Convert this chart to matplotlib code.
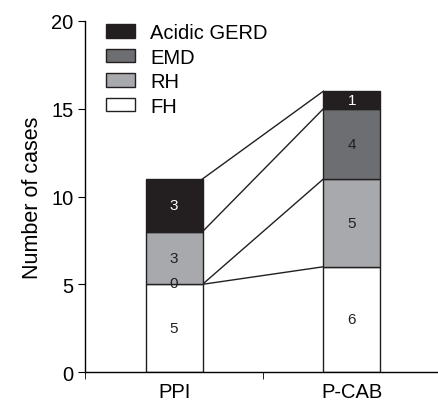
import matplotlib.pyplot as plt
from matplotlib.patches import Patch

plt.rcParams['font.family'] = ['Liberation Sans', 'DejaVu Sans']

groups = ["PPI", "P-CAB"]
series = ["FH", "RH", "EMD", "Acidic GERD"]
values = {
    "FH": [5, 6],
    "RH": [3, 5],
    "EMD": [0, 4],
    "Acidic GERD": [3, 1],
}
# stacking order per bar (as drawn in the original figure)
stack_order = [
    ["FH", "EMD", "RH", "Acidic GERD"],
    ["FH", "RH", "EMD", "Acidic GERD"],
]
colors = {
    "FH": "#ffffff",
    "RH": "#a7a9ac",
    "EMD": "#6d6e71",
    "Acidic GERD": "#231f20",
}
text_colors = {"FH": "#231f20", "RH": "#231f20", "EMD": "#231f20", "Acidic GERD": "#ffffff"}

fig = plt.figure(figsize=(4.39, 4.06), dpi=100)
ax = fig.add_axes([0.194, 0.081, 0.81, 0.865])

width = 0.32
tops = []
for i, order in enumerate(stack_order):
    bottom = 0
    bar_tops = []
    for name in order:
        v = values[name][i]
        if v > 0:
            ax.bar(i, v, width, bottom=bottom, color=colors[name],
                   edgecolor="#231f20", linewidth=1.0, zorder=2)
        ypos = bottom + v / 2 if v > 0 else bottom + 0.05
        ax.text(i, ypos, str(v), ha="center", va="center", fontsize=11,
                color=text_colors[name] if v > 0 else "#231f20", zorder=3)
        bottom += v
        bar_tops.append(bottom)
    tops.append(bar_tops)

# connecting lines between the segment boundaries
for a, b in zip(tops[0], tops[1]):
    ax.plot([0 + width / 2, 1 - width / 2], [a, b], color="#231f20", lw=1.0, zorder=1)

ax.set_xlim(-0.5, 1.5)
ax.set_ylim(0, 20)
ax.set_yticks([0, 5, 10, 15, 20])
ax.set_xticks([0, 1])
ax.set_xticklabels(groups)
ax.set_xticks([-0.5, 0.5], minor=True)
ax.tick_params(axis="x", which="major", length=0, labelsize=14.5, pad=7)
ax.tick_params(axis="x", which="minor", length=5, direction="out")
ax.tick_params(axis="y", labelsize=14.5, length=5, direction="out")
ax.set_ylabel("Number of cases", fontsize=15.5, labelpad=6)
for s in ["top", "right"]:
    ax.spines[s].set_visible(False)
ax.spines["left"].set_linewidth(1.0)
ax.spines["bottom"].set_linewidth(1.0)

handles = [Patch(facecolor=colors[n], edgecolor="#231f20", linewidth=1.0)
           for n in ["Acidic GERD", "EMD", "RH", "FH"]]
ax.legend(handles, ["Acidic GERD", "EMD", "RH", "FH"], loc="upper left",
          bbox_to_anchor=(0.03, 1.022), frameon=False, fontsize=14.5, borderpad=0,
          handlelength=1.45, handleheight=0.65, labelspacing=0.27, handletextpad=0.75)

fig.savefig("out.png", dpi=100)
